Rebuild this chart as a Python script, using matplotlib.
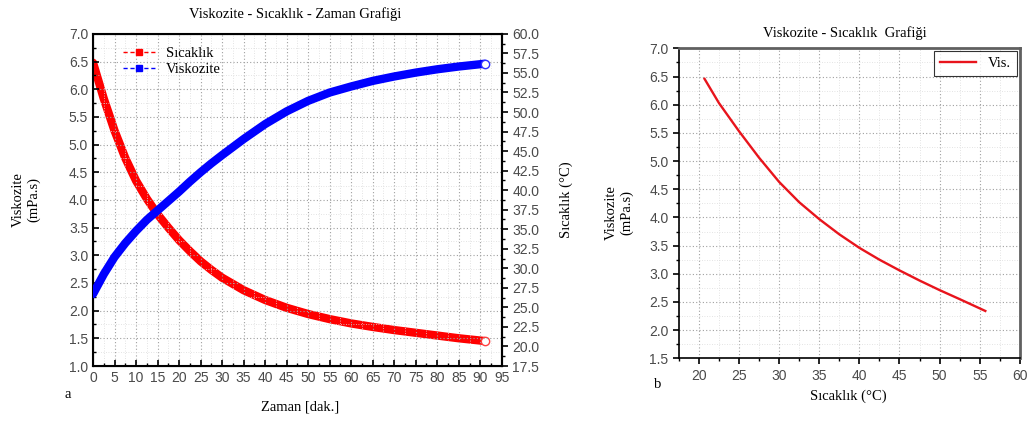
import numpy as np
import matplotlib
matplotlib.use("Agg")
import matplotlib.pyplot as plt
from matplotlib.lines import Line2D
from matplotlib.ticker import MultipleLocator, FormatStrFormatter

# chart a: time series
zaman = [0, 2.5, 5, 7.5, 10, 12.5, 15, 17.5, 20, 22.5, 25, 27.5, 30,
         35, 40, 45, 50, 55, 60, 65, 70, 75, 80, 85, 91]
sicaklik = [56.3, 51.7, 47.6, 44.1, 41.2, 38.9, 36.9, 35.2, 33.6, 32.2, 30.9, 29.8, 28.8,
            27.2, 25.95, 24.95, 24.15, 23.5, 22.95, 22.5, 22.1, 21.75, 21.4, 21.05, 20.7]
viskozite = [2.30, 2.66, 2.97, 3.22, 3.44, 3.64, 3.81, 3.98, 4.15, 4.33, 4.50, 4.66, 4.81,
             5.10, 5.37, 5.60, 5.79, 5.94, 6.05, 6.15, 6.23, 6.30, 6.36, 6.41, 6.46]

# chart b: viscosity vs temperature
b_sicaklik = [20.7, 22.5, 25, 27.5, 30, 32.5, 35, 37.5, 40, 42.5, 45, 47.5, 50, 52.5, 55.7]
b_vis = [6.46, 6.03, 5.53, 5.06, 4.63, 4.27, 3.97, 3.70, 3.46, 3.25, 3.06, 2.88, 2.71, 2.55, 2.34]

serif = "Liberation Serif"
sans = "Liberation Sans"
tick_col = "#4a4a4a"
grid_major = dict(color="#a0a0a0", ls=(0, (1, 2)), lw=0.8)
grid_minor = dict(color="#dadada", ls=(0, (1, 2)), lw=0.6)

fig = plt.figure(figsize=(10.27, 4.21), dpi=100)

# ---- chart a ----
ax = fig.add_axes([0.0906, 0.1306, 0.398, 0.789])
ax2 = ax.twinx()

ax.plot(zaman, viskozite, color="#0000ff", lw=6, solid_capstyle="round",
        solid_joinstyle="round", zorder=3)
ax.plot(zaman[-1], viskozite[-1], "o", ms=6, mfc="white", mec="#3030ff", mew=1, zorder=4)
ax2.plot(zaman, sicaklik, color="#ff0000", lw=6, solid_capstyle="round",
         solid_joinstyle="round", zorder=3)
ax2.plot(zaman[-1], sicaklik[-1], "o", ms=6, mfc="white", mec="#ff4040", mew=1, zorder=4)

ax.set_xlim(0, 95)
ax.set_ylim(1.0, 7.0)
ax2.set_ylim(17.5, 60.0)

ax.xaxis.set_major_locator(MultipleLocator(5))
ax.xaxis.set_minor_locator(MultipleLocator(2.5))
ax.yaxis.set_major_locator(MultipleLocator(0.5))
ax.yaxis.set_minor_locator(MultipleLocator(0.25))
ax.yaxis.set_major_formatter(FormatStrFormatter("%.1f"))
ax2.yaxis.set_major_locator(MultipleLocator(2.5))
ax2.yaxis.set_minor_locator(MultipleLocator(1.25))
ax2.yaxis.set_major_formatter(FormatStrFormatter("%.1f"))

ax.tick_params(which="both", direction="in", top=False, labelsize=10, labelcolor=tick_col)
ax.tick_params(which="major", length=4, width=1.2)
ax.tick_params(which="minor", length=2, width=1)
ax2.tick_params(which="major", direction="out", length=4, width=1.2, labelsize=10, labelcolor=tick_col)
ax2.tick_params(which="minor", direction="out", length=2, width=1)
for lab in ax.get_xticklabels() + ax.get_yticklabels() + ax2.get_yticklabels():
    lab.set_family(sans)

ax.grid(True, which="minor", **grid_minor)
ax.grid(True, which="major", **grid_major)
for s in ax.spines.values():
    s.set_linewidth(1.5)
ax2.spines["right"].set_linewidth(1.5)
ax.set_zorder(ax2.get_zorder() + 1)
ax.patch.set_visible(False)

ax.set_ylabel("Viskozite\n(mPa.s)", family=serif, fontsize=10.5)
ax.yaxis.set_label_coords(-0.13, 0.5)
ax2.set_ylabel("Sıcaklık (°C)", family=serif, fontsize=10.5)
ax2.yaxis.set_label_coords(1.142, 0.5)
ax.set_xlabel("Zaman [dak.]", family=serif, fontsize=10.5)
ax.xaxis.set_label_coords(0.506, -0.105)

handles = [Line2D([], [], color="#ff0000", ls=(0, (3, 2)), lw=1, marker="s", ms=4),
           Line2D([], [], color="#0000ff", ls=(0, (3, 2)), lw=1, marker="s", ms=4)]
ax.legend(handles, ["Sıcaklık", "Viskozite"], loc="upper left", bbox_to_anchor=(0.04, 1.0),
          frameon=False, prop={"family": serif, "size": 10.5}, handlelength=2.2,
          labelspacing=0.2, handletextpad=0.8)

fig.text(0.287, 0.967, "Viskozite - Sıcaklık - Zaman Grafiği", family=serif, fontsize=10.5,
         ha="center", va="center")
fig.text(0.066, 0.062, "a", family=serif, fontsize=10.5, ha="center", va="center")

# ---- chart b ----
bx = fig.add_axes([0.661, 0.149, 0.332, 0.736])
bx.plot(b_sicaklik, b_vis, color="#e8141c", lw=1.7, label="Vis.")
bx.set_xlim(17.5, 60)
bx.set_ylim(1.5, 7.0)
bx.xaxis.set_major_locator(MultipleLocator(5))
bx.xaxis.set_minor_locator(MultipleLocator(2.5))
bx.yaxis.set_major_locator(MultipleLocator(0.5))
bx.yaxis.set_minor_locator(MultipleLocator(0.25))
bx.yaxis.set_major_formatter(FormatStrFormatter("%.1f"))
bx.tick_params(which="both", direction="out", labelsize=10, labelcolor=tick_col)
bx.tick_params(which="major", length=4, width=1.2)
bx.tick_params(which="minor", length=2, width=1)
for lab in bx.get_xticklabels() + bx.get_yticklabels():
    lab.set_family(sans)
bx.grid(True, which="minor", **grid_minor)
bx.grid(True, which="major", **grid_major)
for s in ["left", "bottom"]:
    bx.spines[s].set_linewidth(1.2)
for s in ["right", "top"]:
    bx.spines[s].set_linewidth(2)
    bx.spines[s].set_color("#606060")

bx.set_ylabel("Viskozite\n(mPa.s)", family=serif, fontsize=10.5)
bx.yaxis.set_label_coords(-0.132, 0.47)
bx.set_xlabel("Sıcaklık (°C)", family=serif, fontsize=10.5)
bx.xaxis.set_label_coords(0.496, -0.102)
leg = bx.legend(loc="upper right", prop={"family": serif, "size": 10.5}, fancybox=False,
                edgecolor="black", borderaxespad=0.2, handlelength=2.5)
leg.get_frame().set_linewidth(0.8)

fig.text(0.823, 0.922, "Viskozite - Sıcaklık  Grafiği", family=serif, fontsize=10.5,
         ha="center", va="center")
fig.text(0.64, 0.086, "b", family=serif, fontsize=10.5, ha="center", va="center")

fig.savefig("out.png", dpi=100)
